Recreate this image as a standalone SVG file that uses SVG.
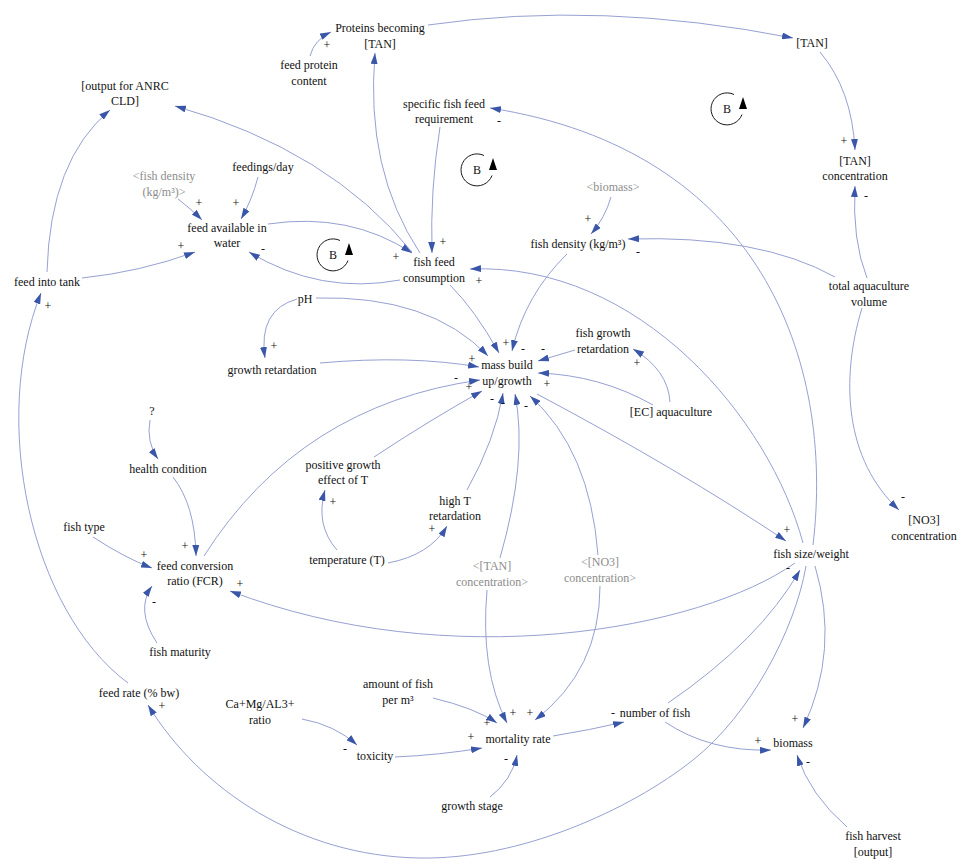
<svg xmlns="http://www.w3.org/2000/svg" width="972" height="867" viewBox="0 0 972 867" font-family="'Liberation Serif', 'Times New Roman', serif">
<style>
text{font-family:"Liberation Serif","Times New Roman",serif;font-size:12px;fill:#111;text-anchor:middle}
.g{fill:#8c8c8c}
.c path{fill:none;stroke:#97a0d2;stroke-width:1;marker-end:url(#a)}
</style>
<defs>
<marker id="a" viewBox="0 0 11 7" refX="11" refY="3.5" markerWidth="11" markerHeight="7" orient="auto" markerUnits="userSpaceOnUse">
<path d="M0,0 L11,3.5 L0,7 z" fill="#3a56a8"/>
</marker>
<g id="loopB">
<path d="M7,-14.5 A16,16 0 1 0 15,5.5" fill="none" stroke="#1a1a1a" stroke-width="1"/>
<path d="M16,-12 L12,0 L20,0 z" fill="#000"/>
<text x="0" y="4">B</text>
</g>
</defs>
<rect width="972" height="867" fill="#fff"/>

<g id="connectors" class="c">
<path d="M310,56 Q314,40 331,32"/>
<path d="M428,25 Q600,0 793,38"/>
<path d="M420,253 Q365,170 375,53"/>
<path d="M412,252 Q330,150 175,106"/>
<path d="M47,272 Q50,160 110,110"/>
<path d="M82,278 Q140,272 195,252"/>
<path d="M178,199 Q190,208 202,220"/>
<path d="M258,177 Q252,200 241,219"/>
<path d="M268,224 Q350,212 412,253"/>
<path d="M400,280 Q320,295 249,252"/>
<path d="M440,127 Q430,190 432,253"/>
<path d="M820,52 Q852,90 855,150"/>
<path d="M867,278 Q852,240 855,186"/>
<path d="M835,277 Q760,235 628,239"/>
<path d="M611,197 Q605,218 591,234"/>
<path d="M567,254 Q525,295 512,351"/>
<path d="M297,299 Q258,310 265,358"/>
<path d="M316,298 Q430,295 488,356"/>
<path d="M320,363 Q410,355 479,367"/>
<path d="M450,285 Q475,310 499,353"/>
<path d="M575,350 L538,361"/>
<path d="M670,402 Q668,370 633,349"/>
<path d="M653,405 Q600,375 538,373"/>
<path d="M204,556 Q300,405 480,380"/>
<path d="M374,457 Q430,420 482,391"/>
<path d="M337,550 Q315,525 325,490"/>
<path d="M388,563 Q430,555 447,526"/>
<path d="M467,490 Q495,440 503,393"/>
<path d="M500,558 Q528,460 515,394"/>
<path d="M598,555 Q590,450 530,396"/>
<path d="M537,394 Q680,470 786,541"/>
<path d="M813,545 C835,360 760,150 490,108"/>
<path d="M803,543 C770,420 640,262 470,269"/>
<path d="M795,563 C700,630 450,675 230,591"/>
<path d="M668,703 Q760,640 800,570"/>
<path d="M806,566 C795,630 750,715 693,760 C630,810 520,860 419,858 C300,856 200,790 148,705"/>
<path d="M665,722 Q710,752 771,750"/>
<path d="M815,566 Q840,650 803,728"/>
<path d="M847,827 Q810,795 797,755"/>
<path d="M553,736 Q590,730 624,722"/>
<path d="M433,698 Q475,708 497,723"/>
<path d="M395,757 Q440,755 482,748"/>
<path d="M302,719 Q335,725 357,745"/>
<path d="M490,797 Q512,780 517,755"/>
<path d="M150,420 Q146,442 158,459"/>
<path d="M173,477 Q195,505 196,556"/>
<path d="M93,537 Q125,558 152,568"/>
<path d="M157,643 Q135,610 152,586"/>
<path d="M128,683 C30,610 -10,420 41,293"/>
<path d="M487,590 Q480,670 507,723"/>
<path d="M600,586 Q600,670 535,720"/>
<path d="M862,308 C840,380 845,460 899,510"/>
</g>

<g id="polarities">
<text x="327" y="49">+</text>
<text x="844" y="145">+</text>
<text x="866" y="200">-</text>
<text x="638" y="256">-</text>
<text x="588" y="223">+</text>
<text x="199" y="207">+</text>
<text x="236" y="207">+</text>
<text x="181" y="250">+</text>
<text x="263" y="253">-</text>
<text x="396" y="261">+</text>
<text x="443" y="246">+</text>
<text x="499" y="125">-</text>
<text x="479" y="285">+</text>
<text x="274" y="350">+</text>
<text x="506" y="347">+</text>
<text x="523" y="353">-</text>
<text x="543" y="353">-</text>
<text x="472" y="363">+</text>
<text x="456" y="382">-</text>
<text x="469" y="391">+</text>
<text x="547" y="388">+</text>
<text x="492" y="403">-</text>
<text x="503" y="407">-</text>
<text x="526" y="410">-</text>
<text x="637" y="367">+</text>
<text x="333" y="506">+</text>
<text x="432" y="533">+</text>
<text x="787" y="534">+</text>
<text x="788" y="572">-</text>
<text x="185" y="550">+</text>
<text x="144" y="559">+</text>
<text x="154" y="606">-</text>
<text x="240" y="588">+</text>
<text x="162" y="710">+</text>
<text x="48" y="310">+</text>
<text x="903" y="501">-</text>
<text x="513" y="717">+</text>
<text x="530" y="717">+</text>
<text x="487" y="727">+</text>
<text x="471" y="741">+</text>
<text x="506" y="763">-</text>
<text x="613" y="717">-</text>
<text x="345" y="753">-</text>
<text x="758" y="745">+</text>
<text x="795" y="723">+</text>
<text x="808" y="766">-</text>
</g>

<g id="loops">
<use href="#loopB" x="333" y="255"/>
<use href="#loopB" x="477" y="170"/>
<use href="#loopB" x="727" y="109"/>
</g>

<g id="proteins_becoming_tan"><text x="380" y="32">Proteins becoming</text><text x="380" y="48">[TAN]</text></g>
<g id="feed_protein_content"><text x="309" y="69">feed protein</text><text x="309" y="85">content</text></g>
<g id="output_anrc"><text x="125" y="90">[output for ANRC</text><text x="125" y="105">CLD]</text></g>
<g id="tan"><text x="812" y="47">[TAN]</text></g>
<g id="specific_fish_feed_requirement"><text x="444" y="108">specific fish feed</text><text x="444" y="123">requirement</text></g>
<g id="fish_density_shadow"><text class="g" x="164" y="180">&lt;fish density</text><text class="g" x="164" y="196">(kg/m³)&gt;</text></g>
<g id="feedings_day"><text x="263" y="171">feedings/day</text></g>
<g id="feed_available_in_water"><text x="227" y="232">feed available in</text><text x="227" y="247">water</text></g>
<g id="biomass_shadow"><text class="g" x="613" y="191">&lt;biomass&gt;</text></g>
<g id="fish_density"><text x="578" y="248">fish density (kg/m³)</text></g>
<g id="tan_concentration"><text x="855" y="165">[TAN]</text><text x="855" y="180">concentration</text></g>
<g id="fish_feed_consumption"><text x="434" y="266">fish feed</text><text x="434" y="282">consumption</text></g>
<g id="feed_into_tank"><text x="47" y="286">feed into tank</text></g>
<g id="total_aquaculture_volume"><text x="869" y="290">total aquaculture</text><text x="869" y="306">volume</text></g>
<g id="ph"><text x="305" y="303">pH</text></g>
<g id="growth_retardation"><text x="272" y="374">growth retardation</text></g>
<g id="mass_build_up_growth"><text x="507" y="369">mass build</text><text x="507" y="385">up/growth</text></g>
<g id="fish_growth_retardation"><text x="603" y="337">fish growth</text><text x="603" y="353">retardation</text></g>
<g id="ec_aquaculture"><text x="671" y="416">[EC] aquaculture</text></g>
<g id="question"><text x="152" y="415">?</text></g>
<g id="health_condition"><text x="168" y="473">health condition</text></g>
<g id="positive_growth_effect_t"><text x="343" y="469">positive growth</text><text x="343" y="484">effect of T</text></g>
<g id="high_t_retardation"><text x="455" y="505">high T</text><text x="455" y="520">retardation</text></g>
<g id="fish_type"><text x="84" y="531">fish type</text></g>
<g id="temperature"><text x="347" y="564">temperature (T)</text></g>
<g id="fcr"><text x="195" y="570">feed conversion</text><text x="195" y="585">ratio (FCR)</text></g>
<g id="tan_concentration_shadow"><text class="g" x="492" y="570">&lt;[TAN]</text><text class="g" x="492" y="586">concentration&gt;</text></g>
<g id="no3_concentration_shadow"><text class="g" x="600" y="566">&lt;[NO3]</text><text class="g" x="600" y="582">concentration&gt;</text></g>
<g id="fish_size_weight"><text x="811" y="558">fish size/weight</text></g>
<g id="no3_concentration"><text x="924" y="524">[NO3]</text><text x="924" y="540">concentration</text></g>
<g id="fish_maturity"><text x="180" y="656">fish maturity</text></g>
<g id="feed_rate"><text x="139" y="697">feed rate (% bw)</text></g>
<g id="ca_mg_ratio"><text x="260" y="708">Ca+Mg/AL3+</text><text x="260" y="724">ratio</text></g>
<g id="amount_of_fish"><text x="398" y="688">amount of fish</text><text x="398" y="704">per m³</text></g>
<g id="toxicity"><text x="375" y="760">toxicity</text></g>
<g id="mortality_rate"><text x="518" y="743">mortality rate</text></g>
<g id="growth_stage"><text x="472" y="810">growth stage</text></g>
<g id="number_of_fish"><text x="655" y="717">number of fish</text></g>
<g id="biomass"><text x="793" y="747">biomass</text></g>
<g id="fish_harvest"><text x="873" y="840">fish harvest</text><text x="873" y="856">[output]</text></g>
</svg>
